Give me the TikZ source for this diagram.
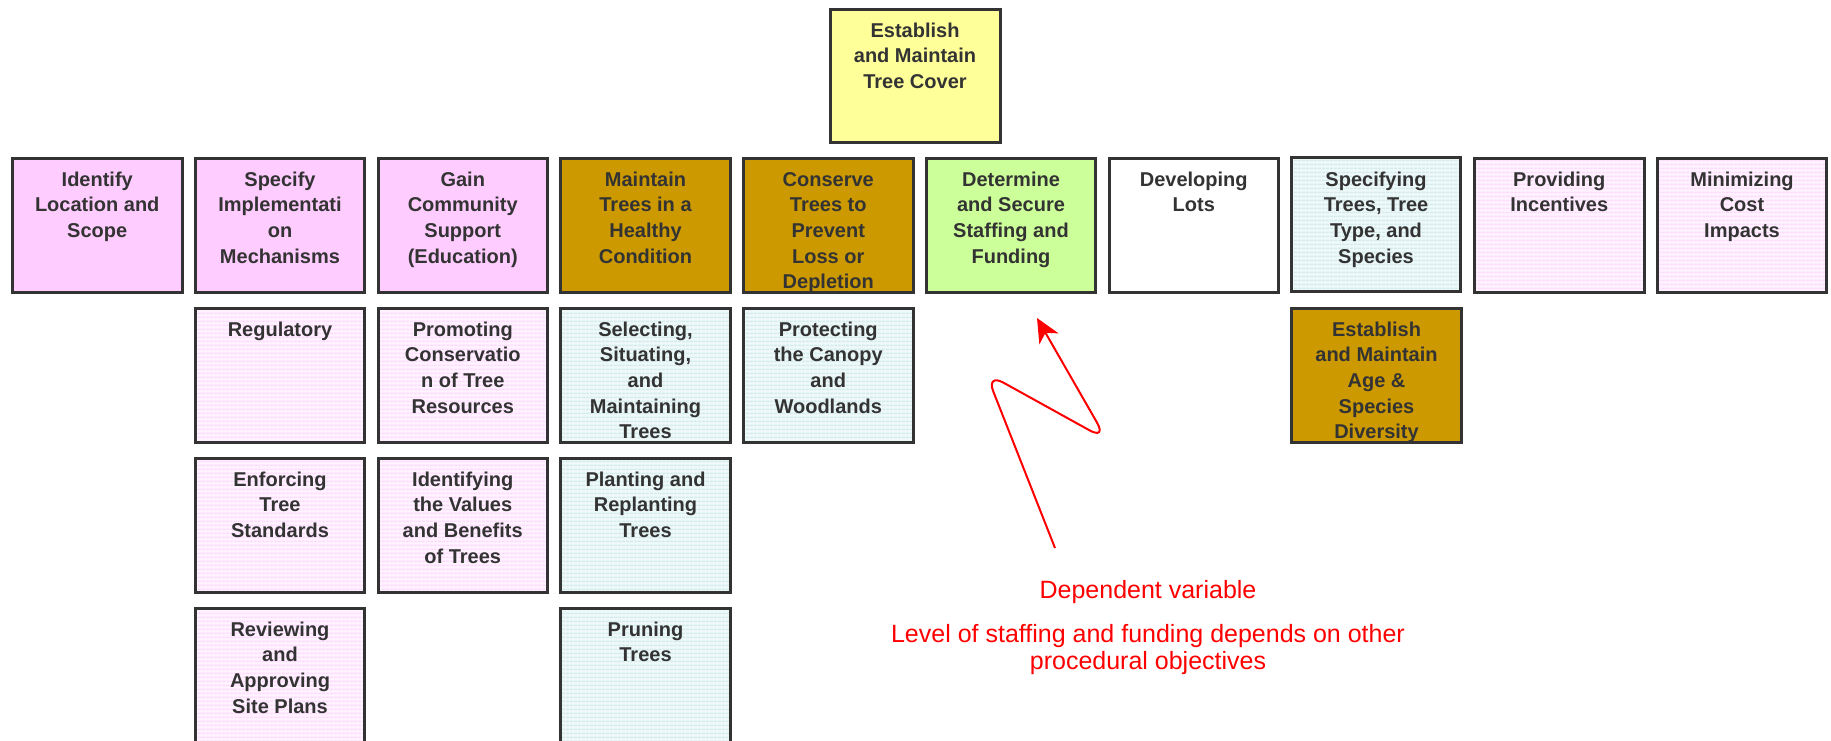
\documentclass[tikz,border=0pt]{standalone}
\usepackage{fontspec}
\setmainfont{Liberation Sans}
\usetikzlibrary{patterns.meta,arrows.meta}
\definecolor{bordercol}{HTML}{333333}
\definecolor{txtcol}{HTML}{333333}
\definecolor{pinkS}{HTML}{FFCCFF}
\definecolor{goldS}{HTML}{CC9900}
\definecolor{greenS}{HTML}{CCFF99}
\definecolor{yellowS}{HTML}{FFFF99}
\definecolor{pinkbase}{HTML}{FFF3FF}
\definecolor{pinkline}{HTML}{FFDAFF}
\definecolor{bluebase}{HTML}{EFF9F9}
\definecolor{blueline}{HTML}{D3EBEB}
\definecolor{annot}{HTML}{FF0000}
\tikzset{
  box/.style={draw=bordercol, line width=3pt, minimum width=169.5pt, minimum height=134pt, inner sep=0pt, anchor=north west},
  txt/.style={anchor=north, inner sep=0pt, align=center, text=txtcol, font=\fontsize{20}{25.7}\selectfont\bfseries},
  pinkfill/.style={fill=pinkS},
  goldfill/.style={fill=goldS},
  greenfill/.style={fill=greenS},
  yellowfill/.style={fill=yellowS},
  whitefill/.style={fill=white},
  pinkstripe/.style={preaction={fill=pinkbase}, pattern={Lines[angle=0,distance=4pt,line width=2pt]}, pattern color=pinkline},
  bluestripe/.style={preaction={fill=bluebase}, pattern={Lines[angle=0,distance=4pt,line width=2pt]}, pattern color=blueline},
  redtxt/.style={text=annot, inner sep=0pt, font=\fontsize{25}{28}\selectfont},
  redarrow/.style={draw=annot, line width=2pt, -{Stealth[length=24pt,width=22pt,inset=7pt]}}
}
\newcommand\tbox[5]{%
  \node[box,#1] (#2) at (#3,#4) {};
  \node[txt] (#2-t) at ([yshift=-11.5pt]#2.north) {\strut #5};
}
\begin{document}
\begin{tikzpicture}[x=1pt,y=-1pt]
\useasboundingbox (0,0) rectangle (1831,740);
% top
\node[box,yellowfill,minimum width=170pt,minimum height=133pt] (top) at (828.5,7.5) {};
\node[txt] (top-t) at ([yshift=-11.5pt]top.north) {\strut Establish\\and Maintain\\Tree Cover};
% row 1
\tbox{pinkfill}{a0}{11}{156.5}{Identify\\Location and\\Scope}
\tbox{pinkfill}{a1}{193.75}{156.5}{Specify\\Implementati\\on\\Mechanisms}
\tbox{pinkfill}{a2}{376.5}{156.5}{Gain\\Community\\Support\\(Education)}
\tbox{goldfill}{a3}{559.25}{156.5}{Maintain\\Trees in a\\Healthy\\Condition}
\tbox{goldfill}{a4}{742}{156.5}{Conserve\\Trees to\\Prevent\\Loss or\\Depletion}
\tbox{greenfill}{a5}{924.75}{156.5}{Determine\\and Secure\\Staffing and\\Funding}
\tbox{whitefill}{a6}{1107.5}{156.5}{Developing\\Lots}
\tbox{bluestripe}{a7}{1290.25}{156.5}{Specifying\\Trees, Tree\\Type, and\\Species}
\tbox{pinkstripe}{a8}{1473}{156.5}{Providing\\Incentives}
\tbox{pinkstripe}{a9}{1655.75}{156.5}{Minimizing\\Cost\\Impacts}
% row 2
\tbox{pinkstripe}{b1}{193.75}{306.5}{Regulatory}
\tbox{pinkstripe}{b2}{376.5}{306.5}{Promoting\\Conservatio\\n of Tree\\Resources}
\tbox{bluestripe}{b3}{559.25}{306.5}{Selecting,\\Situating,\\and\\Maintaining\\Trees}
\tbox{bluestripe}{b4}{742}{306.5}{Protecting\\the Canopy\\and\\Woodlands}
\tbox{goldfill}{b7}{1290.25}{306.5}{Establish\\and Maintain\\Age \&\\Species\\Diversity}
% row 3
\tbox{pinkstripe}{c1}{193.75}{456.5}{Enforcing\\Tree\\Standards}
\tbox{pinkstripe}{c2}{376.5}{456.5}{Identifying\\the Values\\and Benefits\\of Trees}
\tbox{bluestripe}{c3}{559.25}{456.5}{Planting and\\Replanting\\Trees}
% row 4
\tbox{pinkstripe}{d1}{193.75}{606.5}{Reviewing\\and\\Approving\\Site Plans}
\tbox{bluestripe}{d3}{559.25}{606.5}{Pruning\\Trees}
% annotation
\coordinate (as) at (1055,548);
\coordinate (ac1) at (986,373);
\coordinate (ac2) at (1107,440);
\coordinate (ae) at (1037,318);
\draw[redarrow, rounded corners=20pt] (as) -- (ac1) -- (ac2) -- (ae);
\node[redtxt, anchor=base] (dv) at (1148,598) {Dependent variable};
\node[redtxt, anchor=base] (l1) at (1148,642) {Level of staffing and funding depends on other};
\node[redtxt, anchor=base] (l2) at (1148,669) {procedural objectives};
\end{tikzpicture}
\end{document}
